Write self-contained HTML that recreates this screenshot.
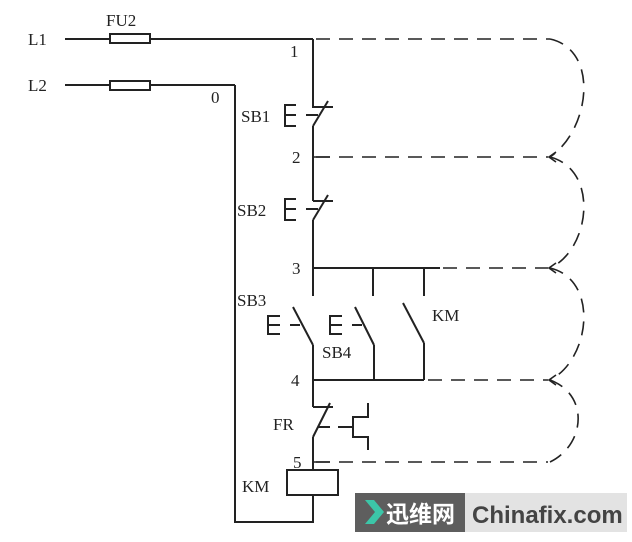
<!DOCTYPE html>
<html><head><style>
body{margin:0;background:#fff;width:632px;height:537px;overflow:hidden}
svg text{font-family:"Liberation Serif",serif;font-size:17px;fill:#222}
</style></head><body>
<svg width="632" height="537" viewBox="0 0 632 537">
<g stroke="#222" stroke-width="2" fill="none">
<line x1="65" y1="39" x2="313" y2="39"/>
<rect x="110" y="34" width="40" height="9" fill="#fff"/>
<line x1="65" y1="85" x2="235" y2="85"/>
<rect x="110" y="81" width="40" height="9" fill="#fff"/>
<polyline points="235,85 235,522 313,522 313,495"/>
<polyline points="313,39 313,107 333,107"/>
<line x1="313" y1="126" x2="328" y2="101"/>
<line x1="313" y1="126" x2="313" y2="201"/>
<polyline points="313,201 333,201"/>
<line x1="313" y1="220" x2="328" y2="195"/>
<line x1="313" y1="220" x2="313" y2="268"/>
<polyline points="296,105 285,105 285,126 296,126"/><line x1="285" y1="115" x2="296" y2="115"/>
<line x1="306" y1="115" x2="318" y2="115"/>
<polyline points="296,199 285,199 285,220 296,220"/><line x1="285" y1="209" x2="296" y2="209"/>
<line x1="306" y1="209" x2="318" y2="209"/>
<line x1="313" y1="268" x2="440" y2="268"/>
<line x1="313" y1="268" x2="313" y2="296"/>
<line x1="373" y1="268" x2="373" y2="296"/>
<line x1="424" y1="268" x2="424" y2="296"/>
<line x1="293" y1="307" x2="313" y2="345"/>
<line x1="355" y1="307" x2="374" y2="345"/>
<line x1="403" y1="303" x2="424" y2="343"/>
<polyline points="280,316 268,316 268,334 280,334"/><line x1="268" y1="325" x2="280" y2="325"/>
<line x1="290" y1="325" x2="300" y2="325"/>
<polyline points="342,316 330,316 330,334 342,334"/><line x1="330" y1="325" x2="342" y2="325"/>
<line x1="352" y1="325" x2="362" y2="325"/>
<line x1="313" y1="345" x2="313" y2="407"/>
<line x1="374" y1="345" x2="374" y2="380"/>
<line x1="424" y1="343" x2="424" y2="380"/>
<line x1="313" y1="380" x2="424" y2="380"/>
<line x1="313" y1="407" x2="333" y2="407"/>
<line x1="313" y1="437" x2="330" y2="403"/>
<line x1="313" y1="437" x2="313" y2="470"/>
<line x1="318" y1="427" x2="330" y2="427"/><line x1="338" y1="427" x2="353" y2="427"/>
<polyline points="368,403 368,417 353,417 353,437 368,437 368,450"/>
<rect x="287" y="470" width="51" height="25"/>
</g>
<g stroke="#222" stroke-width="1.6" fill="none" stroke-dasharray="14,9">
<line x1="316" y1="39" x2="550" y2="39"/>
<line x1="316" y1="157" x2="548" y2="157"/>
<line x1="443" y1="268" x2="548" y2="268"/>
<line x1="428" y1="380" x2="548" y2="380"/>
<line x1="316" y1="462" x2="548" y2="462"/>
<path d="M550,39 C600,50 590,130 550,157"/>
<path d="M550,157 C600,170 590,250 550,268"/>
<path d="M550,268 C600,280 590,360 550,380"/>
<path d="M550,380 C590,395 585,445 550,462"/>
</g>
<g stroke="#222" stroke-width="1.6">
<line x1="313" y1="157" x2="330" y2="157"/><line x1="313" y1="462" x2="330" y2="462"/>
<polyline points="556,152 549,157 556,162" fill="none"/>
<polyline points="556,263 549,268 556,273" fill="none"/>
<polyline points="556,375 549,380 556,385" fill="none"/>
</g>
<text x="28" y="45">L1</text><text x="28" y="91">L2</text>
<text x="106" y="26">FU2</text>
<text x="290" y="57">1</text><text x="211" y="103">0</text>
<text x="292" y="163">2</text><text x="292" y="274">3</text>
<text x="291" y="386">4</text><text x="293" y="468">5</text>
<text x="241" y="122">SB1</text><text x="237" y="216">SB2</text>
<text x="237" y="306">SB3</text><text x="322" y="358">SB4</text>
<text x="432" y="321">KM</text><text x="273" y="430">FR</text>
<text x="242" y="492">KM</text>
<rect x="355" y="493" width="110" height="39" fill="#5e5e5e"/>
<rect x="465" y="493" width="162" height="39" fill="#e3e3e3"/>
<polygon points="365,500 374,500 384,512 374,524 365,524 375,512" fill="#3cc6a8"/>
<text x="386" y="522" style="font-family:'Noto Sans CJK SC',sans-serif;font-size:23px;font-weight:bold;fill:#fff">迅维网</text>
<text x="472" y="523" style="font-family:'Liberation Sans',sans-serif;font-size:24px;font-weight:bold;fill:#444">Chinafix.com</text>
</svg>
</body></html>
